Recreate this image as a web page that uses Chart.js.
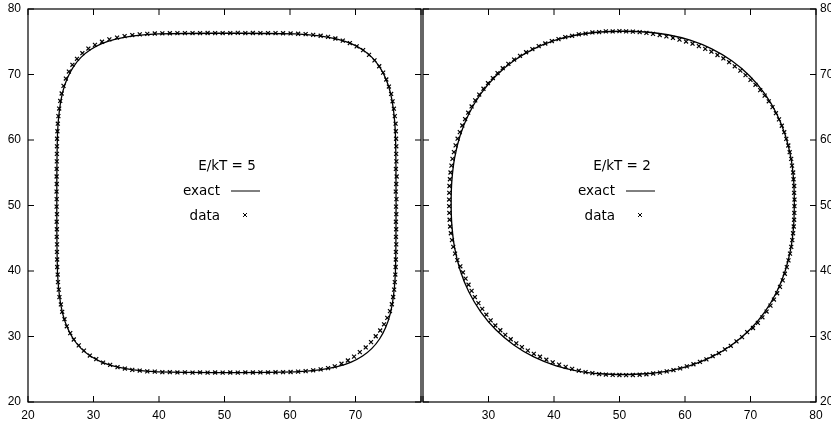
<!DOCTYPE html>
<html>
<head>
<meta charset="utf-8">
<script src="https://cdn.jsdelivr.net/npm/chart.js@4"></script>
<style>
  body { margin: 0; background: #fff; }
  #wrap { position: relative; width: 831px; height: 421px; }
  canvas { position: absolute; left: 0; top: 0; }
</style>
</head>
<body>
<div id="wrap">
  <canvas id="chart-left" width="831" height="421"></canvas>
  <canvas id="chart-right" width="831" height="421"></canvas>
</div>
<script>
// axis ticks (both panels share the same range)
const tickValues = [20, 30, 40, 50, 60, 70, 80];

// E/kT = 5 : exact curve
const exact5X = [76.20,76.10,75.80,75.31,74.60,73.67,72.51,71.08,69.34,67.21,64.51,60.79,50.30,
  39.81,36.09,33.39,31.26,29.52,28.09,26.93,26.00,25.29,24.80,24.50,24.40,
  24.50,24.80,25.29,26.00,26.93,28.09,29.52,31.26,33.39,36.09,39.81,50.30,
  60.79,64.51,67.21,69.34,71.08,72.51,73.67,74.60,75.31,75.80,76.10,76.20];
const exact5Y = [50.40,60.89,64.61,67.31,69.44,71.18,72.61,73.77,74.70,75.41,75.90,76.20,76.30,
  76.20,75.90,75.41,74.70,73.77,72.61,71.18,69.44,67.31,64.61,60.89,50.40,
  39.91,36.19,33.49,31.36,29.62,28.19,27.03,26.10,25.39,24.90,24.60,24.50,
  24.60,24.90,25.39,26.10,27.03,28.19,29.62,31.36,33.49,36.19,39.91,50.40];

// E/kT = 5 : data
const data5X = [
  76.25,76.15,76.22,76.28,76.17,76.24,76.21,76.23,76.20,76.16,76.12,76.00,75.86,75.66,75.44,75.10,74.70,74.22,73.62,72.90,
  72.06,71.16,70.18,69.14,68.06,66.93,65.81,64.68,63.54,62.39,61.24,60.09,58.94,57.79,56.64,55.48,54.33,53.18,52.03,50.88,
  49.72,48.57,47.42,46.27,45.12,43.96,42.81,41.66,40.51,39.36,38.21,37.06,35.92,34.75,33.60,32.42,31.30,30.22,29.22,28.30,
  27.48,26.78,26.24,25.78,25.42,25.14,24.92,24.76,24.64,24.55,24.49,24.44,24.42,24.41,24.40,24.38,24.37,24.39,24.36,24.38,
  24.37,24.42,24.38,24.41,24.39,24.43,24.42,24.45,24.46,24.53,24.58,24.70,24.80,25.02,25.22,25.57,25.92,26.45,26.99,27.75,
  28.54,29.44,30.42,31.46,32.54,33.67,34.79,35.92,37.06,38.21,39.36,40.51,41.66,42.81,43.96,45.12,46.27,47.42,48.57,49.72,
  50.88,52.03,53.18,54.33,55.48,56.64,57.79,58.94,60.09,61.24,62.39,63.54,64.68,65.81,66.83,67.86,68.84,69.78,70.66,71.56,
  72.37,73.09,73.77,74.36,74.85,75.26,75.55,75.75,75.90,76.00,76.08,76.13,76.16,76.17,76.22,76.18,76.21,76.17,76.23,76.19];
const data5Y = [
  50.98,52.13,53.28,54.43,55.58,56.74,57.89,59.04,60.19,61.34,62.49,63.64,64.78,65.91,67.03,68.16,69.24,70.28,71.26,72.16,
  73.00,73.72,74.30,74.80,75.18,75.50,75.74,75.92,76.05,76.16,76.22,76.27,76.30,76.31,76.33,76.32,76.34,76.32,76.35,76.33,
  76.33,76.31,76.34,76.32,76.33,76.31,76.32,76.30,76.29,76.26,76.21,76.12,76.02,75.86,75.64,75.36,75.00,74.53,73.96,73.25,
  72.40,71.48,70.45,69.38,68.26,67.10,65.96,64.80,63.64,62.49,61.34,60.19,59.04,57.89,56.74,55.58,54.43,53.28,52.13,50.98,
  49.82,48.67,47.52,46.37,45.22,44.06,42.91,41.76,40.61,39.46,38.31,37.16,36.02,34.89,33.77,32.64,31.56,30.52,29.54,28.64,
  27.85,27.09,26.55,26.02,25.66,25.32,25.11,24.90,24.80,24.67,24.63,24.55,24.55,24.51,24.53,24.49,24.51,24.48,24.50,24.49,
  24.50,24.49,24.51,24.50,24.52,24.51,24.54,24.55,24.58,24.64,24.72,24.84,24.98,25.18,25.44,25.85,26.34,26.93,27.61,28.33,
  29.14,30.04,30.92,31.86,32.84,33.87,34.92,36.03,37.16,38.31,39.46,40.61,41.76,42.91,44.06,45.22,46.37,47.52,48.67,49.82];

// E/kT = 2 : exact curve
const exact2X = [76.70,76.59,76.17,75.33,74.01,72.19,69.88,67.14,64.08,60.78,57.38,53.94,50.50,
  47.06,43.62,40.22,36.92,33.86,31.12,28.81,26.99,25.67,24.83,24.41,24.30,
  24.41,24.83,25.67,26.99,28.81,31.12,33.86,36.92,40.22,43.62,47.06,50.50,
  53.94,57.38,60.78,64.08,67.14,69.88,72.19,74.01,75.33,76.17,76.59,76.70];
const exact2Y = [50.40,53.84,57.28,60.68,63.98,67.04,69.78,72.09,73.91,75.23,76.07,76.49,76.60,
  76.49,76.07,75.23,73.91,72.09,69.78,67.04,63.98,60.68,57.28,53.84,50.40,
  46.96,43.52,40.12,36.82,33.76,31.02,28.71,26.89,25.57,24.73,24.31,24.20,
  24.31,24.73,25.57,26.89,28.71,31.02,33.76,36.82,40.12,43.52,46.96,50.40];

// E/kT = 2 : data
const data2X = [
  76.72,76.66,76.67,76.57,76.51,76.34,76.21,75.98,75.77,75.46,75.15,74.78,74.35,73.88,73.36,72.79,72.16,71.48,70.76,70.00,
  69.24,68.45,67.60,66.74,65.86,64.96,64.03,63.09,62.12,61.15,60.16,59.16,58.16,57.16,56.14,55.12,54.11,53.08,52.04,51.01,
  49.99,48.96,47.92,46.89,45.86,44.82,43.79,42.76,41.72,40.69,39.67,38.67,37.67,36.70,35.74,34.81,33.91,33.03,32.17,31.38,
  30.66,29.92,29.23,28.58,27.97,27.42,26.90,26.43,26.00,25.62,25.28,24.98,24.72,24.50,24.34,24.20,24.11,24.04,24.01,23.99,
  24.00,24.02,24.06,24.14,24.25,24.42,24.62,24.90,25.24,25.70,26.10,26.50,26.95,27.42,27.92,28.46,29.04,29.67,30.33,31.04,
  31.80,32.56,33.39,34.24,35.10,36.00,36.92,37.86,38.83,39.80,40.78,41.78,42.77,43.79,44.82,45.86,46.89,47.92,48.96,49.99,
  51.01,52.04,53.08,54.11,55.14,56.18,57.21,58.24,59.26,60.28,61.29,62.28,63.27,64.23,65.18,66.10,66.99,67.86,68.71,69.49,
  70.38,71.12,71.82,72.46,73.05,73.58,74.07,74.50,74.92,75.24,75.54,75.80,76.03,76.22,76.38,76.50,76.60,76.66,76.69,76.71];
const data2Y = [
  50.91,51.94,52.98,54.01,55.04,56.08,57.11,58.14,59.16,60.18,61.19,62.18,63.15,64.09,65.02,65.91,66.77,67.61,68.43,69.18,
  69.90,70.60,71.25,71.88,72.45,72.98,73.48,73.92,74.33,74.70,75.03,75.32,75.58,75.82,76.02,76.20,76.36,76.47,76.54,76.58,
  76.62,76.57,76.58,76.47,76.42,76.25,76.14,75.91,75.70,75.40,75.11,74.73,74.34,73.88,73.40,72.85,72.28,71.62,70.96,70.22,
  69.46,68.67,67.82,66.94,66.05,65.12,64.17,63.20,62.21,61.21,60.20,59.18,58.15,57.12,56.08,55.04,54.01,52.98,51.94,50.91,
  49.89,48.86,47.82,46.79,45.76,44.72,43.69,42.66,41.66,40.72,39.78,38.84,37.90,36.96,36.02,35.10,34.21,33.33,32.47,31.68,
  30.95,30.24,29.58,28.96,28.38,27.85,27.36,26.91,26.46,26.06,25.70,25.36,25.05,24.78,24.56,24.40,24.27,24.19,24.14,24.12,
  24.10,24.12,24.16,24.24,24.35,24.49,24.67,24.88,25.13,25.44,25.76,26.12,26.50,26.99,27.45,28.03,28.58,29.26,29.90,30.67,
  31.30,32.08,32.93,33.81,34.71,35.64,36.60,37.57,38.57,39.58,40.60,41.63,42.66,43.69,44.72,45.76,46.79,47.82,48.86,49.89];

Chart.defaults.font.family = '"Liberation Sans", Arial, sans-serif';
Chart.defaults.font.size = 12;
Chart.defaults.color = '#000';

function toPoints(xs, ys) {
  return xs.map((x, i) => ({ x: x, y: ys[i] }));
}

// gnuplot-like frame: border plus inward ticks on all four sides
const framePlugin = {
  id: 'frame',
  afterDatasetsDraw(chart) {
    const ctx = chart.ctx;
    const a = chart.chartArea;
    const xs = chart.scales.x, ys = chart.scales.y;
    ctx.save();
    ctx.strokeStyle = '#000';
    ctx.lineWidth = 1.2;
    ctx.strokeRect(a.left, a.top, a.right - a.left, a.bottom - a.top);
    ctx.beginPath();
    xs.ticks.forEach(t => {
      const px = xs.getPixelForValue(t.value);
      ctx.moveTo(px, a.bottom); ctx.lineTo(px, a.bottom - 6);
      ctx.moveTo(px, a.top); ctx.lineTo(px, a.top + 6);
    });
    ys.ticks.forEach(t => {
      const py = ys.getPixelForValue(t.value);
      ctx.moveTo(a.left, py); ctx.lineTo(a.left + 6, py);
      ctx.moveTo(a.right, py); ctx.lineTo(a.right - 6, py);
    });
    ctx.lineWidth = 1;
    ctx.stroke();
    ctx.restore();
  }
};

// key in the middle of each panel: title, then "label  sample"
const keyPlugin = {
  id: 'key',
  afterDraw(chart, args, opts) {
    const ctx = chart.ctx;
    const left = chart.chartArea.left;
    const sets = chart.data.datasets;
    ctx.save();
    ctx.fillStyle = '#000';
    ctx.strokeStyle = '#000';
    ctx.font = '13.5px "DejaVu Sans"';
    ctx.textBaseline = 'alphabetic';
    ctx.textAlign = 'center';
    ctx.fillText(opts.title, left + 199, 170);
    ctx.textAlign = 'right';
    ctx.fillText(sets[0].label, left + 192, 195);
    ctx.fillText(sets[1].label, left + 192, 220);
    ctx.lineWidth = 1;
    ctx.beginPath();
    ctx.moveTo(left + 203, 191);
    ctx.lineTo(left + 232, 191);
    ctx.stroke();
    Chart.helpers.drawPoint(ctx, { pointStyle: 'crossRot', radius: 2.8, rotation: 0, borderWidth: 1.2 }, left + 217, 215);
    ctx.restore();
  }
};

function makePanel(id, title, ex, ey, dx, dy, side) {
  const isLeft = side === 'left';
  return new Chart(document.getElementById(id), {
    type: 'scatter',
    data: {
      datasets: [
        {
          label: 'exact',
          data: toPoints(ex, ey),
          showLine: true,
          borderColor: '#000',
          borderWidth: 1.3,
          pointRadius: 0,
          tension: 0.4,
          fill: false
        },
        {
          label: 'data',
          data: toPoints(dx, dy),
          pointStyle: 'crossRot',
          pointRadius: 2.8,
          borderColor: '#000',
          backgroundColor: '#000',
          borderWidth: 1.2
        }
      ]
    },
    options: {
      responsive: false,
      animation: false,
      events: [],
      layout: { padding: isLeft ? { left: 0, right: 410, top: 9, bottom: 0 }
                                : { left: 423, right: 0, top: 9, bottom: 0 } },
      plugins: {
        legend: { display: false },
        tooltip: { enabled: false },
        key: { title: title }
      },
      scales: {
        x: {
          type: 'linear',
          min: 20, max: 80,
          grid: { display: false, drawTicks: false },
          border: { display: false },
          afterBuildTicks(s) { s.ticks = tickValues.map(v => ({ value: v })); },
          ticks: {
            padding: 6,
            maxRotation: 0,
            callback: v => (isLeft && v === 80) || (!isLeft && v === 20) ? '' : String(v)
          },
          afterFit(s) {
            s.height = 19;
            s.paddingLeft = 0; s.paddingRight = 0;
          }
        },
        y: {
          type: 'linear',
          position: side,
          min: 20, max: 80,
          grid: { display: false, drawTicks: false },
          border: { display: false },
          afterBuildTicks(s) { s.ticks = tickValues.map(v => ({ value: v })); },
          ticks: { padding: isLeft ? 7 : 4 },
          afterFit(s) {
            s.width = isLeft ? 28 : 15;
            s.paddingTop = 0; s.paddingBottom = 0;
          }
        }
      }
    },
    plugins: [framePlugin, keyPlugin]
  });
}

makePanel('chart-left', 'E/kT = 5', exact5X, exact5Y, data5X, data5Y, 'left');
makePanel('chart-right', 'E/kT = 2', exact2X, exact2Y, data2X, data2Y, 'right');
</script>
</body>
</html>
